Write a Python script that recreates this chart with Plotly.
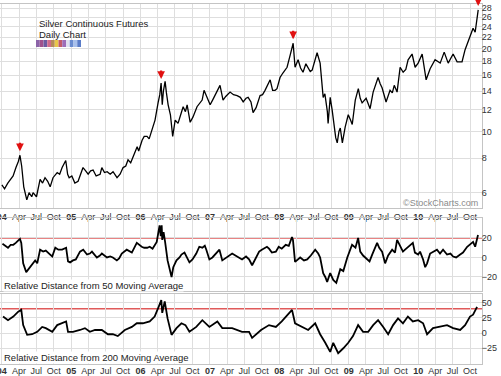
import math
import plotly.graph_objects as go

# ---------------- data ----------------
price_dates = [
    "2004-01-02", "2004-01-16", "2004-02-02", "2004-02-17", "2004-03-01", "2004-03-16", "2004-03-29",
    "2004-04-06", "2004-04-15", "2004-04-26", "2004-05-12", "2004-05-24", "2004-06-07", "2004-06-14",
    "2004-07-02", "2004-07-21", "2004-08-03", "2004-08-16", "2004-08-30", "2004-09-12", "2004-09-27",
    "2004-10-19", "2004-11-01", "2004-11-14", "2004-12-03", "2004-12-13", "2004-12-21", "2005-01-04",
    "2005-01-20", "2005-02-06", "2005-02-20", "2005-03-04", "2005-03-18", "2005-03-31", "2005-04-13",
    "2005-04-26", "2005-05-12", "2005-06-02", "2005-06-11", "2005-06-25", "2005-07-09", "2005-07-25",
    "2005-08-09", "2005-08-20", "2005-08-30", "2005-09-15", "2005-10-01", "2005-10-15", "2005-10-27",
    "2005-11-10", "2005-11-23", "2005-12-05", "2005-12-14", "2005-12-22", "2006-01-09", "2006-01-20",
    "2006-02-04", "2006-02-15", "2006-03-03", "2006-03-18", "2006-04-03", "2006-04-12", "2006-04-19",
    "2006-04-25", "2006-05-01", "2006-05-10", "2006-05-17", "2006-05-26", "2006-06-07", "2006-06-14",
    "2006-06-19", "2006-07-02", "2006-07-17", "2006-07-31", "2006-08-13", "2006-08-25", "2006-09-03",
    "2006-09-19", "2006-10-04", "2006-10-25", "2006-11-08", "2006-11-21", "2006-12-01", "2006-12-15",
    "2007-01-02", "2007-01-15", "2007-01-28", "2007-02-10", "2007-02-23", "2007-03-11", "2007-03-25",
    "2007-04-17", "2007-05-05", "2007-05-24", "2007-06-10", "2007-06-25", "2007-07-10", "2007-07-21",
    "2007-08-05", "2007-08-16", "2007-09-01", "2007-09-22", "2007-10-05", "2007-10-18", "2007-11-01",
    "2007-11-14", "2007-11-27", "2007-12-10", "2007-12-20", "2008-01-05", "2008-01-20", "2008-02-11",
    "2008-02-28", "2008-03-14", "2008-03-24", "2008-04-09", "2008-04-22", "2008-05-05", "2008-05-20",
    "2008-06-01", "2008-06-12", "2008-06-22", "2008-07-05", "2008-07-18", "2008-08-03", "2008-08-12",
    "2008-08-19", "2008-08-28", "2008-09-10", "2008-09-14", "2008-09-25", "2008-10-05", "2008-10-11",
    "2008-10-24", "2008-11-01", "2008-11-10", "2008-11-17", "2008-11-28", "2008-12-13", "2008-12-29",
    "2009-01-10", "2009-01-19", "2009-02-04", "2009-02-20", "2009-03-02", "2009-03-12", "2009-04-02",
    "2009-04-23", "2009-05-09", "2009-05-22", "2009-06-04", "2009-06-15", "2009-06-25", "2009-07-16",
    "2009-07-28", "2009-08-06", "2009-08-18", "2009-08-28", "2009-09-12", "2009-09-28", "2009-10-14",
    "2009-10-28", "2009-11-09", "2009-11-30", "2009-12-16", "2010-01-01", "2010-01-22", "2010-02-12",
    "2010-03-05", "2010-03-31", "2010-04-27", "2010-05-18", "2010-06-08", "2010-07-04", "2010-07-25",
    "2010-08-20", "2010-09-05", "2010-10-01", "2010-10-17", "2010-10-28", "2010-11-08", "2010-11-13",
]
price_vals = [
    6.4, 6.2, 6.5, 6.7, 6.9, 7.4, 7.8,
    8.2, 7.5, 6.3, 5.65, 6.0, 5.8, 6.0,
    5.8, 6.7, 6.5, 6.8, 6.6, 6.3, 6.8,
    7.1, 7.0, 7.4, 7.85, 7.0, 6.8, 6.9,
    6.5, 6.6, 7.1, 7.4, 7.2, 7.0, 7.2,
    7.25, 6.9, 7.0, 7.4, 7.1, 7.15, 7.0,
    7.15, 7.0, 6.8, 7.0, 7.4, 7.5, 7.9,
    7.7, 8.1, 8.6, 8.8, 8.5, 9.3, 9.6,
    9.6, 9.4, 10.1, 11.0, 12.7, 13.6, 15.0,
    12.5, 14.0, 15.2, 13.8, 12.5, 11.5, 10.0,
    9.6, 11.0, 10.7, 11.5, 12.3, 11.8, 12.5,
    10.8, 11.3, 12.3, 12.6, 13.0, 14.1, 13.3,
    12.5, 13.0, 13.5, 14.0, 14.7, 13.0, 13.4,
    13.9, 13.6, 13.5, 13.3, 12.8, 13.2, 13.3,
    12.8, 11.7, 12.2, 13.5, 13.6, 14.1, 14.8,
    15.4, 14.1, 14.1, 14.3, 15.7, 16.3, 17.1,
    19.0, 20.9, 17.1, 18.2, 17.0, 16.4, 17.6,
    17.1, 16.5, 16.7, 18.0, 19.3, 17.7, 15.0,
    13.3, 13.7, 11.8, 10.7, 13.3, 12.0, 11.0,
    9.5, 9.1, 10.0, 10.3, 9.1, 10.4, 11.5,
    11.0, 10.6, 13.0, 14.3, 13.2, 12.7, 13.2,
    12.1, 13.9, 14.8, 15.7, 14.9, 14.4, 12.8,
    13.6, 14.1, 13.8, 14.7, 13.9, 17.1, 16.4,
    16.8, 18.2, 19.1, 17.1, 17.7, 19.1, 15.4,
    16.9, 18.2, 17.7, 19.4, 17.7, 19.1, 17.9,
    17.9, 19.8, 22.0, 23.7, 22.9, 26.0, 27.6,
]

ma50_dates = [
    "2004-01-05", "2004-01-20", "2004-02-03", "2004-02-17", "2004-03-02", "2004-03-15", "2004-03-28",
    "2004-04-06", "2004-04-13", "2004-04-23", "2004-05-09", "2004-05-20", "2004-05-30", "2004-06-12",
    "2004-06-25", "2004-07-06", "2004-07-21", "2004-08-06", "2004-08-20", "2004-09-12", "2004-09-23",
    "2004-10-09", "2004-10-25", "2004-11-14", "2004-11-25", "2004-12-05", "2004-12-15", "2004-12-26",
    "2005-01-10", "2005-01-25", "2005-02-16", "2005-03-05", "2005-03-25", "2005-04-09", "2005-04-20",
    "2005-05-16", "2005-06-01", "2005-06-11", "2005-07-08", "2005-07-25", "2005-08-08", "2005-08-29",
    "2005-09-10", "2005-09-24", "2005-10-20", "2005-11-05", "2005-11-16", "2005-12-12", "2006-01-07",
    "2006-01-20", "2006-02-05", "2006-02-18", "2006-03-05", "2006-03-27", "2006-04-11", "2006-04-17",
    "2006-04-22", "2006-04-25", "2006-05-02", "2006-05-10", "2006-05-23", "2006-06-13", "2006-06-22",
    "2006-07-09", "2006-07-25", "2006-08-04", "2006-08-20", "2006-09-15", "2006-10-01", "2006-10-21",
    "2006-11-06", "2006-11-22", "2006-12-05", "2006-12-13", "2006-12-29", "2007-01-14", "2007-02-09",
    "2007-02-20", "2007-03-07", "2007-03-28", "2007-04-28", "2007-05-15", "2007-06-04", "2007-06-19",
    "2007-07-10", "2007-07-26", "2007-08-11", "2007-08-25", "2007-09-17", "2007-10-01", "2007-10-28",
    "2007-11-08", "2007-11-23", "2007-12-14", "2007-12-29", "2008-01-14", "2008-02-04", "2008-02-20",
    "2008-03-08", "2008-03-13", "2008-03-24", "2008-04-20", "2008-05-10", "2008-05-27", "2008-06-15",
    "2008-07-08", "2008-07-24", "2008-08-03", "2008-08-19", "2008-08-30", "2008-09-09", "2008-09-25",
    "2008-10-11", "2008-10-27", "2008-11-06", "2008-11-17", "2008-12-03", "2008-12-24", "2009-01-18",
    "2009-02-05", "2009-02-19", "2009-03-02", "2009-03-17", "2009-04-07", "2009-04-20", "2009-05-04",
    "2009-05-30", "2009-06-10", "2009-06-25", "2009-07-11", "2009-07-27", "2009-08-17", "2009-09-01",
    "2009-09-12", "2009-09-28", "2009-10-13", "2009-10-24", "2009-11-19", "2009-12-04", "2009-12-15",
    "2010-01-01", "2010-01-11", "2010-01-27", "2010-02-07", "2010-02-17", "2010-03-05", "2010-04-10",
    "2010-04-26", "2010-05-12", "2010-06-02", "2010-06-20", "2010-07-04", "2010-07-20", "2010-08-10",
    "2010-08-25", "2010-09-16", "2010-10-01", "2010-10-17", "2010-10-28", "2010-11-07", "2010-11-12",
]
ma50_vals = [
    14, 12, 10, 13, 13, 15, 18,
    19, 15, -6, -15, -12, -10, -6,
    -3, -6, 8, 6, 7, 3, 1,
    10, 8, 8, 9, 10, -4, -5,
    -3, -2, 6, 8, 3, 4, 6,
    0, 2, 4, 0, 1, 0, -3,
    -1, 4, 8, 6, 5, 15, 11,
    10, 10, 11, 9, 16, 33, 22,
    33, 18, 26, 16, -3, -20, -10,
    -3, 0, 3, 5, -5, -2, 4,
    11, 10, 12, 8, -2, 0, 6,
    8, -3, 0, 4, 2, 0, -2,
    1, -2, -8, -3, 6, 8, 11,
    9, 5, 6, 11, 9, 13, 12,
    21, 18, -4.5, 0, -3, -2, 2,
    8, 4, 0, -16, -20, -25, -16,
    -23, -26, -18, -12, -14, 0, 13,
    10, 20, 6, 2, -2, -4, 3,
    15, 10, 6, -6, 2, 8, 5,
    18, 11, 6, 8, 13, 15, 5,
    3, 6, -2, -10, -6, 4, 8,
    4, 8, 3, 4, 1, 0, 3,
    5, 11, 13, 16, 11, 18, 23,
]

ma200_dates = [
    "2004-01-08", "2004-02-03", "2004-03-02", "2004-03-28", "2004-04-13", "2004-04-23", "2004-05-14",
    "2004-06-09", "2004-07-06", "2004-08-01", "2004-08-20", "2004-09-23", "2004-10-19", "2004-11-14",
    "2004-12-05", "2004-12-15", "2005-01-10", "2005-02-16", "2005-03-14", "2005-04-09", "2005-05-06",
    "2005-06-11", "2005-07-13", "2005-08-08", "2005-09-03", "2005-10-10", "2005-11-16", "2005-12-12",
    "2006-01-13", "2006-02-18", "2006-03-16", "2006-04-06", "2006-04-20", "2006-04-25", "2006-05-08",
    "2006-05-23", "2006-06-13", "2006-07-09", "2006-08-04", "2006-08-25", "2006-09-15", "2006-10-21",
    "2006-11-22", "2006-12-29", "2007-02-09", "2007-03-07", "2007-04-28", "2007-06-19", "2007-07-26",
    "2007-08-11", "2007-09-27", "2007-11-08", "2007-12-14", "2008-01-14", "2008-03-08", "2008-03-24",
    "2008-04-30", "2008-06-01", "2008-07-08", "2008-08-03", "2008-08-30", "2008-09-25", "2008-10-11",
    "2008-11-06", "2008-12-03", "2008-12-29", "2009-01-23", "2009-02-19", "2009-03-17", "2009-04-13",
    "2009-05-09", "2009-06-04", "2009-07-01", "2009-07-27", "2009-08-22", "2009-09-17", "2009-10-13",
    "2009-11-08", "2009-12-04", "2010-01-01", "2010-01-27", "2010-02-17", "2010-03-20", "2010-04-26",
    "2010-06-02", "2010-07-04", "2010-08-10", "2010-09-05", "2010-10-01", "2010-10-17", "2010-11-07",
]
ma200_vals = [
    27, 21, 27, 35, 38, 13, -3,
    -2, 2, 10, 8, 2, 13, 16,
    19, 2, 2, 5, 8, 2, 5,
    5, -2, -2, -5, 5, 10, 16,
    16, 19, 27, 43, 54, 33, 52,
    24, -3, 8, 16, 13, 2, 10,
    21, 10, 19, 8, 8, 2, 2,
    -8, 5, 13, 10, 19, 38, 16,
    10, 5, 16, -2, -16, -31, -16,
    -33, -25, -16, -5, 13, 2, 2,
    13, 21, 10, -2, 13, 24, 16,
    27, 19, 21, 16, -2, 8, 10,
    13, 8, 5, 13, 27, 30, 43,
]

tick_dates = [
    "2004-01-01", "2004-04-01", "2004-07-01", "2004-10-01",
    "2005-01-01", "2005-04-01", "2005-07-01", "2005-10-01",
    "2006-01-01", "2006-04-01", "2006-07-01", "2006-10-01",
    "2007-01-01", "2007-04-01", "2007-07-01", "2007-10-01",
    "2008-01-01", "2008-04-01", "2008-07-01", "2008-10-01",
    "2009-01-01", "2009-04-01", "2009-07-01", "2009-10-01",
    "2010-01-01", "2010-04-01", "2010-07-01", "2010-10-01",
]
tick_labels = [
    "<b>04</b>", "Apr", "Jul", "Oct", "<b>05</b>", "Apr", "Jul", "Oct",
    "<b>06</b>", "Apr", "Jul", "Oct", "<b>07</b>", "Apr", "Jul", "Oct",
    "<b>08</b>", "Apr", "Jul", "Oct", "<b>09</b>", "Apr", "Jul", "Oct",
    "<b>10</b>", "Apr", "Jul", "Oct",
]
price_ticks = [6, 8, 10, 12, 14, 16, 18, 20, 22, 24, 26, 28]
ma50_ticks = [-20, 0, 20]
ma200_ticks = [-25, 0, 25, 50]
ma50_ref = 20
ma200_ref = 40
arrow_dates = ["2004-04-06", "2006-04-19", "2008-03-14", "2010-11-13"]

title_lines = ["Silver Continuous Futures", "Daily Chart"]
label_50 = "Relative Distance from 50 Moving Average"
label_200 = "Relative Distance from 200 Moving Average"
watermark = "\u00a9StockCharts.com"
swatch_colors = ["#8b63a8", "#a0508c", "#6c5aa0", "#d06a8c", "#b58a5a", "#e8c64a",
                 "#c25a6a", "#9c6cb8", "#e0e0f0", "#6a8cd0", "#a8c0ec", "#5a7cc8"]

# ---------------- geometry helpers ----------------
W, H = 501, 376
PW = 482  # plot width in px (right margin 19)


def ydom(top_px, bot_px):
    return [1 - bot_px / H, 1 - top_px / H]


def xp(px):
    return px / PW


def yp(py):
    return 1 - py / H


FONT = "Liberation Sans, Arial, sans-serif"
GRID = "#dedede"
LINE = "#c4c4c4"
RED = "#e05a5a"
XR = ["2003-12-23", "2010-12-03"]

fig = go.Figure()
fig.add_trace(go.Scatter(x=price_dates, y=price_vals, mode="lines", hoverinfo="skip",
                         line=dict(color="#000000", width=1.3), xaxis="x", yaxis="y"))
fig.add_trace(go.Scatter(x=ma50_dates, y=ma50_vals, mode="lines", hoverinfo="skip",
                         line=dict(color="#000000", width=1.8), xaxis="x2", yaxis="y2"))
fig.add_trace(go.Scatter(x=ma200_dates, y=ma200_vals, mode="lines", hoverinfo="skip",
                         line=dict(color="#000000", width=1.8), xaxis="x3", yaxis="y3"))

xcommon = dict(type="date", range=XR, tickmode="array", tickvals=tick_dates, ticktext=tick_labels,
               showgrid=True, gridcolor=GRID, gridwidth=1, showline=True, linecolor=LINE,
               mirror=True, ticks="", zeroline=False, automargin=False, showspikes=False,
               ticklabeloverflow="allow",
               tickfont=dict(family=FONT, size=9, color="#333333"), domain=[0, 1])
ycommon = dict(side="right", showgrid=True, gridcolor=GRID, gridwidth=1, showline=True,
               linecolor=LINE, mirror=True, ticks="", zeroline=False, automargin=False,
               ticklabeloverflow="allow", ticklabelstandoff=-3, showspikes=False,
               tickfont=dict(family=FONT, size=9, color="#333333"))

fig.update_layout(
    width=W, height=H, margin=dict(l=0, r=W - PW, t=0, b=0),
    paper_bgcolor="white", plot_bgcolor="white", showlegend=False, hovermode=False,
    font=dict(family=FONT, size=9, color="#333333"),
    xaxis=dict(xcommon, anchor="y", showticklabels=True),
    xaxis2=dict(xcommon, anchor="y2", matches="x", showticklabels=False),
    xaxis3=dict(xcommon, anchor="y3", matches="x", showticklabels=True, ticklabelstandoff=-2),
    yaxis=dict(ycommon, type="log", domain=ydom(4, 208),
               range=[math.log10(5.28), math.log10(29.0)],
               tickmode="array", tickvals=price_ticks, ticktext=[str(v) for v in price_ticks]),
    yaxis2=dict(ycommon, domain=ydom(218, 291), range=[-34.4, 40.5],
                tickmode="array", tickvals=ma50_ticks),
    yaxis3=dict(ycommon, domain=ydom(294, 364), range=[-50.8, 64],
                tickmode="array", tickvals=ma200_ticks),
)

# reference lines
fig.add_shape(type="line", xref="x2 domain", yref="y2", x0=0, x1=1, y0=ma50_ref, y1=ma50_ref,
              line=dict(color=RED, width=1.5), layer="below")
fig.add_shape(type="line", xref="x3 domain", yref="y3", x0=0, x1=1, y0=ma200_ref, y1=ma200_ref,
              line=dict(color=RED, width=1.5), layer="below")

# red arrows above the marked peaks
lookup = dict(zip(price_dates, price_vals))
for d in arrow_dates:
    v = lookup[d]
    fig.add_annotation(x=d, y=math.log10(v), xref="x", yref="y", text="", showarrow=True,
                       ax=0, ay=-14, arrowhead=2, arrowsize=0.7, arrowwidth=2.2,
                       arrowcolor="#e01010", standoff=4)

# texts
fig.add_annotation(x=xp(37), y=yp(24), xref="paper", yref="paper", text=title_lines[0],
                   showarrow=False, xanchor="left", yanchor="middle",
                   font=dict(family=FONT, size=9.5, color="#222222"))
fig.add_annotation(x=xp(37), y=yp(34), xref="paper", yref="paper", text=title_lines[1],
                   showarrow=False, xanchor="left", yanchor="middle",
                   font=dict(family=FONT, size=9.5, color="#222222"))
fig.add_annotation(x=xp(480), y=yp(203), xref="paper", yref="paper", text=watermark,
                   showarrow=False, xanchor="right", yanchor="middle",
                   font=dict(family=FONT, size=9, color="#8a8a8a"))
fig.add_annotation(x=xp(3), y=yp(285), xref="paper", yref="paper", text=label_50,
                   showarrow=False, xanchor="left", yanchor="middle", bgcolor="white",
                   borderpad=0, font=dict(family=FONT, size=9.5, color="#222222"))
fig.add_annotation(x=xp(3), y=yp(357), xref="paper", yref="paper", text=label_200,
                   showarrow=False, xanchor="left", yanchor="middle", bgcolor="white",
                   borderpad=0, font=dict(family=FONT, size=9.5, color="#222222"))

# colour swatch strip under the title
sw_x0, sw_w = 36, 45.0 / len(swatch_colors)
for i, c in enumerate(swatch_colors):
    fig.add_shape(type="rect", xref="paper", yref="paper",
                  x0=xp(sw_x0 + i * sw_w), x1=xp(sw_x0 + (i + 1) * sw_w),
                  y0=yp(47), y1=yp(40), line=dict(width=0), fillcolor=c)

fig.write_html("out.html", config={"displayModeBar": False, "staticPlot": True},
               post_script="document.body.style.margin='0';document.body.style.padding='0';"
                           "document.body.style.overflow='hidden';")
